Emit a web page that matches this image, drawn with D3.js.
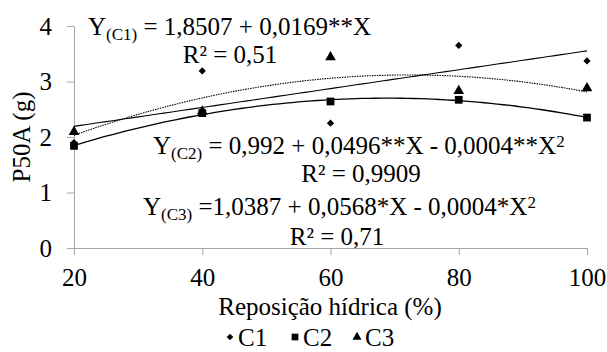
<!DOCTYPE html>
<html>
<head>
<meta charset="utf-8">
<script src="https://cdn.jsdelivr.net/npm/d3@7"></script>
<style>
  body { margin: 0; background: #fff; }
  text { font-family: "Liberation Serif", "Times New Roman", serif; fill: #000; }
</style>
</head>
<body>
<script>
'use strict';

// data
const reposicao = [20, 40, 60, 80, 100];
const c1 = [1.90, 3.19, 2.25, 3.65, 3.37];
const c2 = [1.84, 2.43, 2.64, 2.67, 2.35];
const c3 = [2.09, 2.46, 3.44, 2.83, 2.88];
const yTicks = [0, 1, 2, 3, 4];
const seriesNames = ["C1", "C2", "C3"];

const width = 607, height = 352;
const margin = {top: 26, right: 20, bottom: 104, left: 74};
const serif = '"Liberation Serif", "Times New Roman", serif';

const svg = d3.select('body').append('svg')
  .attr('width', width)
  .attr('height', height);

const x = d3.scaleLinear().domain([20, 100]).range([margin.left, 587]);
const y = d3.scaleLinear().domain([0, 4]).range([height - margin.bottom, margin.top]);

// least squares polynomial fit (degree 1 or 2)
function polyFit(xs, ys, deg) {
  const n = deg + 1;
  const A = [];
  for (let i = 0; i < n; i++) {
    A.push([]);
    for (let j = 0; j < n; j++) A[i].push(d3.sum(xs, v => Math.pow(v, i + j)));
    A[i].push(d3.sum(xs, (v, k) => Math.pow(v, i) * ys[k]));
  }
  // gauss elimination
  for (let i = 0; i < n; i++) {
    for (let k = i + 1; k < n; k++) {
      const f = A[k][i] / A[i][i];
      for (let j = i; j <= n; j++) A[k][j] -= f * A[i][j];
    }
  }
  const c = new Array(n).fill(0);
  for (let i = n - 1; i >= 0; i--) {
    let s = A[i][n];
    for (let j = i + 1; j < n; j++) s -= A[i][j] * c[j];
    c[i] = s / A[i][i];
  }
  return xv => c.reduce((acc, ci, i) => acc + ci * Math.pow(xv, i), 0);
}

// axes
const gray = '#a6a6a6';
const xAxis = svg.append('g')
  .attr('transform', `translate(0,${y(0)})`)
  .call(d3.axisBottom(x).tickValues(reposicao).tickFormat(d3.format('d'))
    .tickSize(7).tickSizeOuter(0).tickPadding(8));
const yAxis = svg.append('g')
  .attr('transform', `translate(${x(20)},0)`)
  .call(d3.axisLeft(y).tickValues(yTicks).tickFormat(d3.format('d'))
    .tickSize(7).tickSizeOuter(0).tickPadding(15));
[xAxis, yAxis].forEach(g => {
  g.attr('font-family', serif);
  g.selectAll('path, line').attr('stroke', gray);
  g.selectAll('text').style('font-size', '25px').attr('fill', '#000')
    .style('font-family', serif);
});
xAxis.selectAll('text').attr('dy', '0.9em');
yAxis.selectAll('text').attr('dy', '0.33em');

// trend lines
const xs = d3.range(20, 100.5, 1);
const fits = [
  {f: polyFit(reposicao, c1, 1), dash: null, w: 1.1},
  {f: polyFit(reposicao, c2, 2), dash: null, w: 1.3},
  {f: polyFit(reposicao, c3, 2), dash: '1.5,1', w: 1.1}
];
const line = d3.line();
fits.forEach(t => {
  svg.append('path')
    .attr('d', line(xs.map(v => [x(v), y(t.f(v))])))
    .attr('fill', 'none')
    .attr('stroke', '#000')
    .attr('stroke-width', t.w)
    .attr('stroke-dasharray', t.dash);
});

// markers
const symbols = [
  d3.symbol().type(d3.symbolDiamond2).size(34),
  d3.symbol().type(d3.symbolSquare).size(60),
  d3.symbol().type(d3.symbolTriangle).size(50)
];
[c1, c2, c3].forEach((vals, si) => {
  svg.selectAll('.m' + si)
    .data(vals)
    .enter()
    .append('path')
    .attr('class', 'm' + si)
    .attr('d', symbols[si])
    .attr('fill', '#000')
    .attr('transform', (d, i) => `translate(${x(reposicao[i])},${y(d)})`);
});

// equations
function eq(xPos, yPos, parts, anchor) {
  const t = svg.append('text')
    .attr('x', xPos).attr('y', yPos)
    .attr('text-anchor', anchor || 'start')
    .style('font-size', '25px');
  parts.forEach(p => {
    const s = t.append('tspan').text(p.t);
    if (p.sub) s.style('font-size', '17px').attr('baseline-shift', '-30%');
    if (p.sup) s.style('font-size', '17px').attr('baseline-shift', '40%');
  });
}
eq(88, 35, [{t: 'Y'}, {t: '(C1)', sub: true}, {t: ' = 1,8507 + 0,0169**X'}]);
eq(230, 63, [{t: 'R² = 0,51'}], 'middle');
eq(153, 154, [{t: 'Y'}, {t: '(C2)', sub: true}, {t: '  = 0,992 + 0,0496**X - 0,0004**X'}, {t: '2', sup: true}]);
eq(361, 182, [{t: 'R² = 0,9909'}], 'middle');
eq(143, 215, [{t: 'Y'}, {t: '(C3)', sub: true}, {t: ' =1,0387 + 0,0568*X - 0,0004*X'}, {t: '2', sup: true}]);
eq(337, 245, [{t: 'R² = 0,71'}], 'middle');

// axis titles
svg.append('text')
  .attr('x', 330).attr('y', 315)
  .attr('text-anchor', 'middle')
  .style('font-size', '25px')
  .text('Reposição hídrica (%)');

svg.append('text')
  .attr('transform', 'translate(30,137)rotate(-90)')
  .attr('text-anchor', 'middle')
  .style('font-size', '25px')
  .text('P50A (g)');

// legend
const legendX = [230, 295, 357];
seriesNames.forEach((name, i) => {
  svg.append('path')
    .attr('d', d3.symbol().type([d3.symbolDiamond2, d3.symbolSquare, d3.symbolTriangle][i]).size([28, 45, 36][i]))
    .attr('fill', '#000')
    .attr('transform', `translate(${legendX[i]},337)`);
  svg.append('text')
    .attr('x', legendX[i] + 8).attr('y', 346)
    .style('font-size', '25px')
    .text(name);
});
</script>
</body>
</html>
